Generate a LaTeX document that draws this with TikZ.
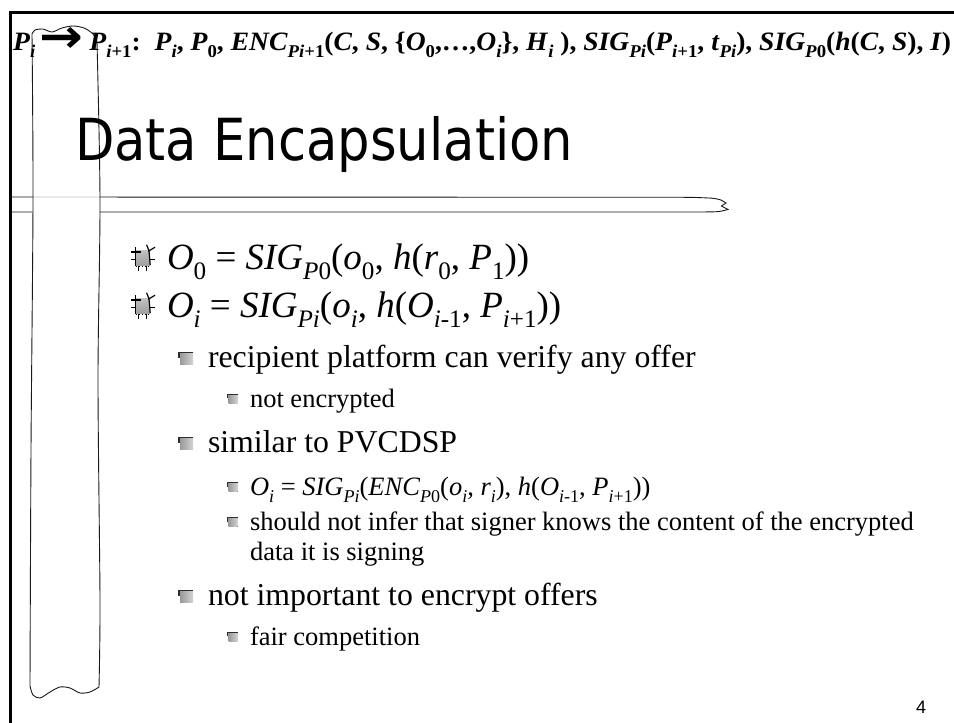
\documentclass[tikz,border=0pt]{standalone}
\usepackage{fontspec}
\usepackage{graphicx}
\setmainfont{Liberation Serif}
\newfontfamily\titlefont{DejaVu Sans}
\newfontfamily\arrowfont{DejaVu Sans}
\newfontfamily\pagefont{Liberation Sans}
\usetikzlibrary{shadings}

% subscript: smaller and lowered
\newcommand\lw[1]{\raisebox{-0.28em}{\scalebox{0.68}{#1}}}
\newcommand\mi[1]{\textit{#1}}
% heavy right arrow of the header line
\newcommand\harrow{\raisebox{-0.1em}{\scalebox{1.9}[1.75]{\arrowfont\bfseries →}}}

\tikzset{
  txt/.style={anchor=base west, inner sep=0pt, outer sep=0pt},
  lone/.style={txt, font=\fontsize{37}{41}\selectfont},
  ltwo/.style={txt, font=\fontsize{31.8}{35}\selectfont},
  lthree/.style={txt, font=\fontsize{26.5}{30}\selectfont},
  scrollline/.style={line width=0.9pt, draw=black!90},
  % ornate first-level bullet
  bulletone/.pic={
    \begin{scope}[scale=1.2]
    \fill[top color=gray!50, bottom color=gray!75] (-6,-6) rectangle (6,6);
    \draw[line width=1.2pt] (-6,-9) -- (-6,7);
    \draw[line width=1.2pt] (-10,-5) -- (-2,-5);
    \draw[line width=1.2pt] (-10,1) -- (-6,1);
    \draw[line width=1.2pt] (3,-11) -- (5,-6) -- (10,-9);
    \draw[line width=1.2pt] (5,-6) -- (6,6);
    \draw[line width=1.2pt] (6,1) -- (10,1);
    \draw[line width=1.2pt, dash pattern=on 1.5pt off 1.5pt] (-6,7) -- (6,7);
    \draw[line width=1.2pt] (-4,7) -- (-4,11) (3,7) -- (3,11);
    \end{scope}
  },
  % square bullets of the lower levels
  bullettwo/.pic={
    \fill[left color=gray!80, right color=gray!35] (-6.5,-6) rectangle (6.5,6);
    \draw[gray!35!black, line width=1.2pt] (-7.5,-1) -- (-7.5,-6) -- (6.5,-6);
  },
  bulletthree/.pic={
    \fill[left color=gray!80, right color=gray!35] (-4.5,-4.5) rectangle (4.5,4.5);
    \draw[gray!35!black, line width=1pt] (-5.5,-0.5) -- (-5.5,-4.5) -- (4.5,-4.5);
  }
}

\begin{document}
\begin{tikzpicture}[x=1pt, y=-1pt]
\useasboundingbox (0,0) rectangle (954,723);
\fill[white] (0,0) rectangle (954,723);

% slide frame, open to the right and bottom
\draw[line width=3pt] (10,723) -- (10,12) -- (954,12);

% horizontal scroll under the title
\draw[scrollline] (10,197) -- (690,197.3)
  -- plot[smooth] coordinates {(690,197.3) (712,198.2) (721,200)}
  -- (726,203) -- (721.5,206) -- (728,209.5)
  -- plot[smooth] coordinates {(728,209.5) (718,211.6) (700,212)}
  -- (10,212);

% vertical scroll along the left side
\fill[white] plot[smooth] coordinates {(97,42) (93,34) (84,28) (73,26) (62,28) (52,32) (43,29) (35,30) (32,34)}
  -- plot[smooth] coordinates {(32,34) (33,200) (31,450) (30,686)}
  -- plot[smooth] coordinates {(30,686) (33,695) (40,698) (50,692) (60,687) (70,688) (80,693) (90,692) (99,687)}
  -- plot[smooth] coordinates {(99,687) (100,600) (98,380) (100,200) (97,42)} -- cycle;
\draw[gray!45, line width=0.8pt] (33,197) -- (100,197.1);
\draw[scrollline] plot[smooth] coordinates {(97,42) (93,34) (84,28) (73,26) (62,28) (52,32) (43,29) (35,30) (32,34)}
  -- plot[smooth] coordinates {(32,34) (33,200) (31,450) (30,686)}
  -- plot[smooth] coordinates {(30,686) (33,695) (40,698) (50,692) (60,687) (70,688) (80,693) (90,692) (99,687)}
  -- plot[smooth] coordinates {(99,687) (100,600) (98,380) (100,200) (97,42)};

% header message line
\node[txt, font=\fontsize{26.5}{30}\selectfont\bfseries] (hdr) at (13,50)
  {\resizebox{938pt}{\height}{\mi{P}\lw{\mi{i}}\hspace{0.15em}\harrow\hspace{0.22em}\mi{P}\lw{\mi{i}+1}:\ \ \mi{P}\lw{\mi{i}}, \mi{P}\lw{0}, \mi{ENC}\lw{\mi{Pi}+1}(\mi{C}, \mi{S}, \{\mi{O}\lw{0},…,\mi{O}\lw{\mi{i}}\}, \mi{H}\lw{\mi{i}} ), \mi{SIG}\lw{\mi{Pi}}(\mi{P}\lw{\mi{i}+1}, \mi{t}\lw{\mi{Pi}}), \mi{SIG}\lw{\mi{P}0}(\mi{h}(\mi{C}, \mi{S}), \mi{I})}};

% title
\node[txt, font=\fontsize{58}{62}\titlefont] (title) at (75,160)
  {\resizebox{498pt}{\height}{Data Encapsulation}};

% first-level items
\pic at (143,258) {bulletone};
\node[lone] (ozero) at (167,269)
  {\mi{O}\lw{0} = \mi{SIG}\lw{\mi{P}0}(\mi{o}\lw{0}, \mi{h}(\mi{r}\lw{0}, \mi{P}\lw{1}))};
\pic at (143,306) {bulletone};
\node[lone] (oi) at (167,317)
  {\mi{O}\lw{\mi{i}} = \mi{SIG}\lw{\mi{Pi}}(\mi{o}\lw{\mi{i}}, \mi{h}(\mi{O}\lw{\mi{i}-1}, \mi{P}\lw{\mi{i}+1}))};

% second and third levels
\pic at (186.5,358.5) {bullettwo};
\node[ltwo] (recip) at (208,367) {recipient platform can verify any offer};
\pic at (233,398.5) {bulletthree};
\node[lthree] (notenc) at (250,407) {not encrypted};

\pic at (186.5,443.5) {bullettwo};
\node[ltwo] (similar) at (208,452) {similar to PVCDSP};
\pic at (233,487) {bulletthree};
\node[lthree] (formula) at (250,495)
  {\mi{O}\lw{\mi{i}} = \mi{SIG}\lw{\mi{Pi}}(\mi{ENC}\lw{\mi{P}0}(\mi{o}\lw{\mi{i}}, \mi{r}\lw{\mi{i}}), \mi{h}(\mi{O}\lw{\mi{i}-1}, \mi{P}\lw{\mi{i}+1}))};
\pic at (233,522) {bulletthree};
\node[lthree] (infera) at (250,530) {should not infer that signer knows the content of the encrypted};
\node[lthree] (inferb) at (250,560) {data it is signing};

\pic at (186.5,596.5) {bullettwo};
\node[ltwo] (notimp) at (208,605) {not important to encrypt offers};
\pic at (233,636.5) {bulletthree};
\node[lthree] (fair) at (250,645) {fair competition};

% slide number
\node[txt, font=\fontsize{18}{20}\pagefont] (pagenum) at (916,713) {4};
\end{tikzpicture}
\end{document}
